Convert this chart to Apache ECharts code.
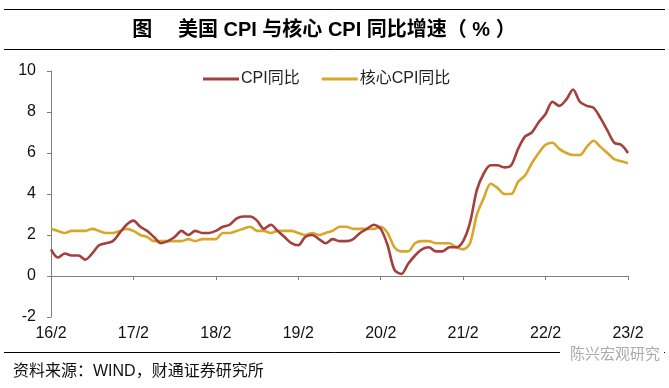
<!DOCTYPE html>
<html><head><meta charset="utf-8">
<script src="https://cdn.jsdelivr.net/npm/echarts@6/dist/echarts.min.js"></script>
<style>html,body{margin:0;padding:0;background:#fff}#c{width:669px;height:388px}</style>
</head><body><div id="c"></div>
<script>
var months = [
 '16/2','16/3','16/4','16/5','16/6','16/7','16/8','16/9','16/10','16/11','16/12',
 '17/1','17/2','17/3','17/4','17/5','17/6','17/7','17/8','17/9','17/10','17/11','17/12',
 '18/1','18/2','18/3','18/4','18/5','18/6','18/7','18/8','18/9','18/10','18/11','18/12',
 '19/1','19/2','19/3','19/4','19/5','19/6','19/7','19/8','19/9','19/10','19/11','19/12',
 '20/1','20/2','20/3','20/4','20/5','20/6','20/7','20/8','20/9','20/10','20/11','20/12',
 '21/1','21/2','21/3','21/4','21/5','21/6','21/7','21/8','21/9','21/10','21/11','21/12',
 '22/1','22/2','22/3','22/4','22/5','22/6','22/7','22/8','22/9','22/10','22/11','22/12',
 '23/1','23/2'
];
var cpiYoY = [
 1.3,0.9,1.1,1.0,1.0,0.8,1.1,1.5,1.6,1.7,2.1,
 2.5,2.7,2.4,2.2,1.9,1.6,1.7,1.9,2.2,2.0,2.2,2.1,
 2.1,2.2,2.4,2.5,2.8,2.9,2.9,2.7,2.3,2.5,2.2,1.9,
 1.6,1.5,1.9,2.0,1.8,1.6,1.8,1.7,1.7,1.8,2.1,2.3,
 2.5,2.3,1.5,0.3,0.1,0.6,1.0,1.3,1.4,1.2,1.2,1.4,
 1.4,1.7,2.6,4.2,5.0,5.4,5.4,5.3,5.4,6.2,6.8,7.0,
 7.5,7.9,8.5,8.3,8.6,9.1,8.5,8.3,8.2,7.7,7.1,6.5,
 6.4,6.0
];
var coreYoY = [
 2.3,2.2,2.1,2.2,2.2,2.2,2.3,2.2,2.1,2.1,2.2,
 2.3,2.2,2.0,1.9,1.7,1.7,1.7,1.7,1.7,1.8,1.7,1.8,
 1.8,1.8,2.1,2.1,2.2,2.3,2.4,2.2,2.2,2.1,2.2,2.2,
 2.2,2.1,2.0,2.1,2.0,2.1,2.2,2.4,2.4,2.3,2.3,2.3,
 2.3,2.4,2.1,1.4,1.2,1.2,1.6,1.7,1.7,1.6,1.6,1.6,
 1.4,1.3,1.6,3.0,3.8,4.5,4.3,4.0,4.0,4.6,4.9,5.5,
 6.0,6.4,6.5,6.2,6.0,5.9,5.9,6.3,6.6,6.3,6.0,5.7,
 5.6,5.5
];
var seriesNames = ['CPI同比','核心CPI同比'];
var yTicks = {min:-2, max:10, interval:2};

var FONT = "'Liberation Sans','Noto Sans CJK SC',sans-serif";
var chart = echarts.init(document.getElementById('c'));
chart.setOption({
  animation:false,
  backgroundColor:'#fff',
  textStyle:{fontFamily:FONT},
  grid:{left:51, right:41, top:71, bottom:71},
  legend:{
    left:198, top:66, itemWidth:36, itemHeight:3, itemGap:22, icon:'rect',
    textStyle:{fontSize:16, color:'#222', fontFamily:FONT, padding:[0,0,0,-3]},
    data:seriesNames
  },
  xAxis:[{
    type:'category', data:months, boundaryGap:false,
    axisLine:{onZero:true, lineStyle:{color:'#7f7f7f', width:1}},
    axisTick:{show:true, interval:11, length:4, lineStyle:{color:'#7f7f7f'}},
    axisLabel:{show:false}, splitLine:{show:false}
  },{
    type:'category', data:months, boundaryGap:false, position:'bottom',
    axisLine:{show:false, onZero:false}, axisTick:{show:false},
    axisLabel:{interval:11, fontSize:16, color:'#111', margin:9, fontFamily:FONT}
  }],
  yAxis:{
    type:'value', min:yTicks.min, max:yTicks.max, interval:yTicks.interval,
    axisLine:{show:true, lineStyle:{color:'#7f7f7f'}},
    axisTick:{show:true, length:4, lineStyle:{color:'#7f7f7f'}},
    axisLabel:{fontSize:16, color:'#111', margin:15, fontFamily:FONT},
    splitLine:{show:false}
  },
  series:[
    {name:seriesNames[0], type:'line', data:cpiYoY, smooth:0.3, symbol:'none', z:3,
     lineStyle:{color:'#A3403E', width:2.6}, itemStyle:{color:'#A3403E'}},
    {name:seriesNames[1], type:'line', data:coreYoY, smooth:0.3, symbol:'none', z:2,
     lineStyle:{color:'#D9A628', width:2.6}, itemStyle:{color:'#D9A628'}}
  ],
  graphic:[
    {type:'line', shape:{x1:4,y1:9.5,x2:665,y2:9.5}, style:{stroke:'#000', lineWidth:1}},
    {type:'line', shape:{x1:4,y1:49.5,x2:665,y2:49.5}, style:{stroke:'#000', lineWidth:1}},
    {type:'text', x:324, y:30, style:{text:'图　 美国 CPI 与核心 CPI 同比增速（ % ）', fill:'#000',
      font:"bold 20px 'Liberation Sans','Noto Sans CJK SC',sans-serif", textAlign:'center', textVerticalAlign:'middle'}},
    {type:'line', shape:{x1:4,y1:352.5,x2:665,y2:352.5}, style:{stroke:'#000', lineWidth:1}},
    {type:'text', x:13, y:372, style:{text:'资料来源：WIND，财通证券研究所', fill:'#111',
      font:"16px 'Liberation Sans','Noto Sans CJK SC',sans-serif", textVerticalAlign:'middle'}},
    {type:'rect', shape:{x:560,y:343,width:104,height:20}, style:{fill:'#fff'}},
    {type:'text', x:660, y:353, style:{text:'陈兴宏观研究', fill:'#aaa',
      font:"15px 'Noto Sans CJK SC',sans-serif", textAlign:'right', textVerticalAlign:'middle'}}
  ]
});
</script></body></html>
